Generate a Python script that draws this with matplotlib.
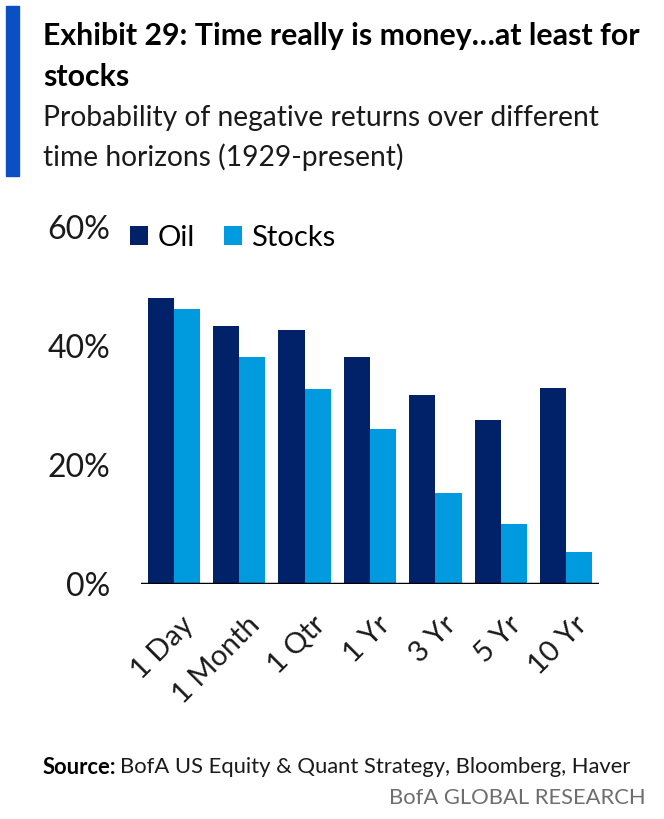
import matplotlib
matplotlib.use('Agg')
import matplotlib.pyplot as plt
import matplotlib.transforms as mtransforms
import numpy as np
from matplotlib.patches import Rectangle

# data (% probability of negative returns)
horizons = ['1 Day', '1 Month', '1 Qtr', '1 Yr', '3 Yr', '5 Yr', '10 Yr']
oil = [48.0, 43.4, 42.7, 38.1, 31.8, 27.5, 32.9]
stocks = [46.2, 38.1, 32.7, 26.0, 15.3, 10.1, 5.4]
yticks = [0, 20, 40, 60]

NAVY = '#012169'
SKY = '#009ade'
FONT = ['Lato', 'DejaVu Sans']

plt.rcParams['font.family'] = FONT

W, H = 664, 819
fig = plt.figure(figsize=(W / 100, H / 100), dpi=100)
ax = fig.add_axes([141 / W, 1 - 584 / H, 458 / W, 357 / H])


def fit(t, width_px):
    # shrink/grow a text so it spans the width seen in the reference
    fig.canvas.draw()
    bb = t.get_window_extent()
    t.set_fontsize(t.get_fontsize() * width_px / bb.width)
    return t


x = np.arange(len(horizons))
w = 0.4
ax.bar(x - w / 2, oil, w, color=NAVY, label='Oil')
ax.bar(x + w / 2, stocks, w, color=SKY, label='Stocks')
ax.axhline(0, color='black', lw=2.5, zorder=5)

ax.set_xlim(-0.5, 6.5)
ax.set_ylim(0, 60)
ax.set_yticks(yticks)
ax.set_yticklabels([f'{v}%' for v in yticks], fontsize=23, color='#1a1a1a')
ax.set_xticks(x)
ax.set_xticklabels(horizons, rotation=45, ha='right', rotation_mode='anchor',
                   fontsize=21, color='#1a1a1a')
ax.tick_params(axis='x', length=0, pad=20)
ax.tick_params(axis='y', length=0, pad=22)
shift = mtransforms.ScaledTranslation(7 / 100, 0, fig.dpi_scale_trans)
for lbl in ax.get_xticklabels():
    lbl.set_transform(lbl.get_transform() + shift)
for s in ax.spines.values():
    s.set_visible(False)

leg = ax.legend(loc='upper left', bbox_to_anchor=(-0.05, 1.038), ncol=2, frameon=False,
                fontsize=21, handlelength=0.64, handleheight=0.64, handletextpad=0.3,
                columnspacing=1.0, borderaxespad=0)

# header
fig.patches.append(Rectangle((6 / W, 1 - 176 / H), 13 / W, 170 / H,
                             transform=fig.transFigure, color='#0b4fc4'))
t1 = fig.text(43 / W, 1 - 36 / H, 'Exhibit 29: Time really is money\u2026at least for',
              fontsize=20, fontweight='bold', va='center', color='black')
fit(t1, 595)
fig.text(43 / W, 1 - 77 / H, 'stocks', fontsize=t1.get_fontsize(), fontweight='bold',
         va='center', color='black')
t2 = fig.text(43 / W, 1 - 118 / H, 'Probability of negative returns over different',
              fontsize=18, va='center', color='#1a1a1a')
fit(t2, 554)
fig.text(43 / W, 1 - 157 / H, 'time horizons (1929-present)',
         fontsize=t2.get_fontsize(), va='center', color='#1a1a1a')

# footer
src = fig.text(43 / W, 1 - 767 / H, 'Source:', fontsize=15, fontweight='bold',
               va='center', color='black')
rest = fig.text(0, 1 - 767 / H, 'BofA US Equity & Quant Strategy, Bloomberg, Haver',
                fontsize=15, va='center', color='#1a1a1a')
fig.canvas.draw()
scale = 589 / (src.get_window_extent().width + 4 + rest.get_window_extent().width)
src.set_fontsize(15 * scale)
rest.set_fontsize(15 * scale)
fig.canvas.draw()
rest.set_x((src.get_window_extent().x1 + 4) / W)
fig.text(646 / W, 1 - 798 / H, 'BofA GLOBAL RESEARCH', fontsize=15 * scale,
         ha='right', va='center', color='#6e6e6e')

fig.savefig('out.png', dpi=100)
